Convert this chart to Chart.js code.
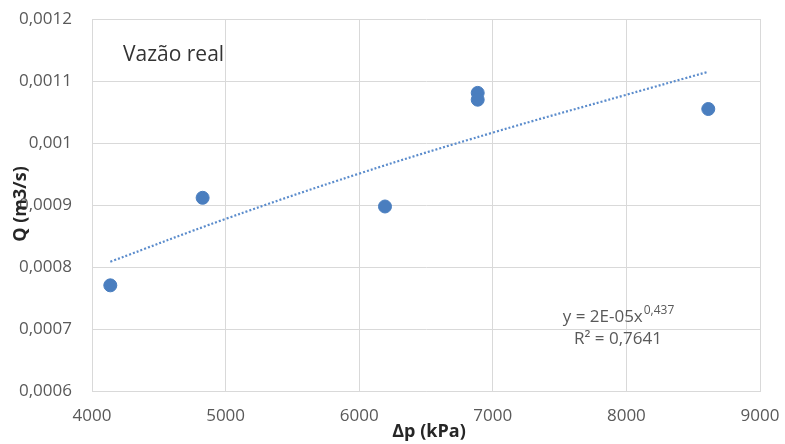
<!DOCTYPE html>
<html>
<head>
<meta charset="utf-8">
<script src="https://cdn.jsdelivr.net/npm/chart.js@4"></script>
<style>
html,body{margin:0;padding:0;background:#fff;}
#wrap{width:785px;height:444px;position:relative;}
</style>
</head>
<body>
<div id="wrap"><canvas id="c" width="785" height="444"></canvas></div>
<script>
// Data
const deltaP = [4137, 4828, 6193, 6887, 6887, 8613];           // kPa
const vazao  = [0.000771, 0.000912, 0.000898, 0.001081, 0.00107, 0.001055]; // m3/s
// Power trendline as seen in the picture
const trendX = [4137, 5000, 6000, 7000, 8000, 8613];
const trendY = [0.000809, 0.000878, 0.000951, 0.001017, 0.001078, 0.001115];
const xTicks = [4000, 5000, 6000, 7000, 8000, 9000];
const yTicks = [0.0006, 0.0007, 0.0008, 0.0009, 0.001, 0.0011, 0.0012];

const chartTitle = 'Vazão real';
const xTitle = 'Δp (kPa)';
const yTitle = 'Q (m3/s)';
const eqMain = 'y = 2E-05x';
const eqExp = '0,437';
const r2Text = 'R² = 0,7641';

const FONT = '"Open Sans", Lato, sans-serif';
const blue = '#4a7ebf';

const textPlugin = {
  id: 'texts',
  afterDraw(chart) {
    const ctx = chart.ctx;
    ctx.save();
    ctx.fillStyle = '#333333';
    ctx.font = '21px ' + FONT;
    ctx.textBaseline = 'middle';
    ctx.textAlign = 'left';
    ctx.fillText(chartTitle, 123, 55);
    ctx.fillStyle = '#262626';
    ctx.font = 'bold 18px ' + FONT;
    ctx.textAlign = 'center';
    ctx.fillText(xTitle, 429, 432);
    ctx.save();
    ctx.translate(21, 204);
    ctx.rotate(-Math.PI / 2);
    ctx.fillText(yTitle, 0, 0);
    ctx.restore();
    ctx.fillStyle = '#595959';
    ctx.font = '17px ' + FONT;
    ctx.textAlign = 'left';
    const w1 = ctx.measureText(eqMain).width;
    ctx.font = '12px ' + FONT;
    const w2 = ctx.measureText(eqExp).width;
    const startX = 618 - (w1 + w2) / 2;
    ctx.font = '17px ' + FONT;
    ctx.fillText(eqMain, startX, 317);
    ctx.font = '12px ' + FONT;
    ctx.fillText(eqExp, startX + w1 + 1, 311);
    ctx.font = '17px ' + FONT;
    ctx.textAlign = 'center';
    ctx.fillText(r2Text, 618, 339);
    ctx.restore();
  }
};

const fmt = v => Number(v.toFixed(4)).toString().replace('.', ',');

new Chart(document.getElementById('c'), {
  type: 'scatter',
  data: {
    datasets: [
      {
        label: 'Vazão real',
        data: deltaP.map((x, i) => ({x: x, y: vazao[i]})),
        backgroundColor: blue,
        borderColor: blue,
        pointRadius: 6.5,
        pointHoverRadius: 6.5,
        order: 1
      },
      {
        label: 'Potência',
        type: 'line',
        data: trendX.map((x, i) => ({x: x, y: trendY[i]})),
        borderColor: '#5b8ccc',
        borderWidth: 2.2,
        borderDash: [2, 2],
        pointRadius: 0,
        tension: 0.4,
        fill: false,
        order: 2
      }
    ]
  },
  options: {
    responsive: false,
    animation: false,
    layout: {padding: {left: 0, right: 25, top: 19, bottom: 0}},
    plugins: {legend: {display: false}, tooltip: {enabled: false}, title: {display: false}},
    scales: {
      x: {
        type: 'linear',
        min: 4000, max: 9000,
        afterBuildTicks: s => { s.ticks = xTicks.map(v => ({value: v})); },
        afterFit: s => { s.height = 52.5; s.paddingLeft = 0; s.paddingRight = 0; },
        grid: {color: '#d9d9d9', drawTicks: false, lineWidth: 1},
        border: {color: '#d9d9d9'},
        ticks: {color: '#595959', font: {family: FONT, size: 17}, padding: 14, callback: v => String(v)}
      },
      y: {
        type: 'linear',
        min: 0.0006, max: 0.0012,
        afterBuildTicks: s => { s.ticks = yTicks.map(v => ({value: v})); },
        afterFit: s => { s.width = 92; s.paddingTop = 0; s.paddingBottom = 0; },
        grid: {color: '#d9d9d9', drawTicks: false, lineWidth: 1},
        border: {color: '#d9d9d9'},
        ticks: {color: '#595959', font: {family: FONT, size: 17}, padding: 20, callback: v => fmt(v)}
      }
    }
  },
  plugins: [textPlugin]
});
</script>
</body>
</html>
